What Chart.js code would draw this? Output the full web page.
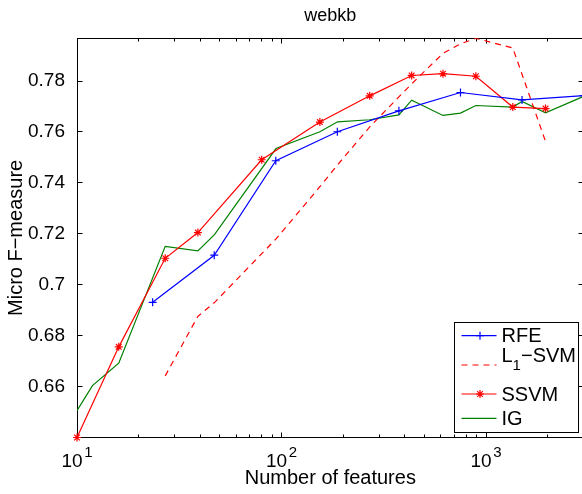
<!DOCTYPE html>
<html>
<head>
<meta charset="utf-8">
<script src="https://cdn.jsdelivr.net/npm/chart.js@4/dist/chart.umd.min.js"></script>
<style>
html,body{margin:0;padding:0;overflow:hidden;background:#fff;}
canvas{display:block;}
</style>
</head>
<body>
<canvas id="c" width="590" height="494"></canvas>
<script>
// ---------- data ----------
const chartTitle = 'webkb';
const xAxisLabel = 'Number of features';
const yAxisLabel = 'Micro F\u2212measure';
const seriesNames = ['RFE', 'L\u2081\u2212SVM', 'SSVM', 'IG'];

const rfeFeatures = [23.44, 46.88, 93.75, 187.5, 375, 750, 1500, 3000];
const rfeScores   = [0.6931, 0.7116, 0.7487, 0.7601, 0.7683, 0.7755, 0.7726, 0.7743];

const l1Features = [27, 39, 47, 94, 154, 188, 270, 375, 433, 616, 750, 892, 1352, 1954];
const l1Scores   = [0.6642, 0.6876, 0.6930, 0.7180, 0.7385, 0.7471, 0.7620, 0.7738, 0.7789, 0.7909, 0.7946, 0.7968, 0.7930, 0.7563];

const ssvmFeatures = [10, 16, 27, 39, 80, 154, 270, 433, 616, 892, 1352, 1954];
const ssvmScores   = [0.6400, 0.6756, 0.7104, 0.7205, 0.7491, 0.7639, 0.7742, 0.7822, 0.7829, 0.7819, 0.7698, 0.7692];

const igFeatures = [10, 11.9, 16, 27, 39, 47, 94, 154, 188, 270, 375, 433, 616, 750, 892, 1352, 1500, 1954, 3000];
const igScores   = [0.6505, 0.6604, 0.6692, 0.7151, 0.7133, 0.7197, 0.7535, 0.7601, 0.7640, 0.7648, 0.7667, 0.7725, 0.7665, 0.7674, 0.7704, 0.7698, 0.7720, 0.7675, 0.7740];

const yTickValues = [0.66, 0.68, 0.70, 0.72, 0.74, 0.76, 0.78];
const xMajorTicks = [10, 100, 1000];
const xMinorTicks = [20, 30, 40, 50, 60, 70, 80, 90, 200, 300, 400, 500, 600, 700, 800, 900, 2000];
const xRange = [10, 3000];
const yRange = [0.64, 0.7968];

// ---------- helpers ----------
const FONT = '"Liberation Sans", Arial, Helvetica, sans-serif';
const toPoints = (xs, ys) => xs.map((x, i) => ({x: x, y: ys[i]}));

Chart.defaults.font.family = FONT;
Chart.defaults.color = '#000';

// axes box with inward ticks and log tick labels (10^n)
const axesBox = {
  id: 'axesBox',
  beforeDatasetsDraw(chart) {
    const {ctx, chartArea: a, scales} = chart;
    const xs = scales.x, ys = scales.y;
    const L = Math.floor(a.left) + 0.5, R = Math.floor(a.right) + 0.5;
    const T = Math.floor(a.top) + 0.5, B = Math.floor(a.bottom) + 0.5;
    ctx.save();
    ctx.strokeStyle = '#000';
    ctx.lineWidth = 1;
    ctx.strokeRect(L, T, R - L, B - T);
    ctx.beginPath();
    yTickValues.forEach(v => {
      const p = Math.floor(ys.getPixelForValue(v)) + 0.5;
      ctx.moveTo(L, p); ctx.lineTo(L + 5, p);
      ctx.moveTo(R, p); ctx.lineTo(R - 5, p);
    });
    xMajorTicks.forEach(v => {
      const p = Math.floor(xs.getPixelForValue(v)) + 0.5;
      ctx.moveTo(p, B); ctx.lineTo(p, B - 5);
      ctx.moveTo(p, T); ctx.lineTo(p, T + 5);
    });
    xMinorTicks.forEach(v => {
      const p = Math.floor(xs.getPixelForValue(v)) + 0.5;
      ctx.moveTo(p, B); ctx.lineTo(p, B - 3);
      ctx.moveTo(p, T); ctx.lineTo(p, T + 3);
    });
    ctx.stroke();

    // x tick labels 10^n
    ctx.fillStyle = '#000';
    ctx.textBaseline = 'alphabetic';
    ctx.textAlign = 'left';
    xMajorTicks.forEach(v => {
      const e = String(Math.round(Math.log10(v)));
      ctx.font = '19px ' + FONT;
      const w1 = ctx.measureText('10').width;
      ctx.font = '15px ' + FONT;
      const w2 = ctx.measureText(e).width;
      const px = xs.getPixelForValue(v);
      const sx = px - (w1 + 1.5 + w2) / 2;
      const base = a.bottom + 29.8;
      ctx.font = '19px ' + FONT;
      ctx.fillText('10', sx, base);
      ctx.font = '15px ' + FONT;
      ctx.fillText(e, sx + w1 + 1.5, base - 10);
    });
    ctx.restore();
  }
};

function drawMarker(ctx, style, x, y, r) {
  ctx.beginPath();
  if (style === 'cross' || style === 'star') {
    ctx.moveTo(x - r, y); ctx.lineTo(x + r, y);
    ctx.moveTo(x, y - r); ctx.lineTo(x, y + r);
  }
  if (style === 'star') {
    const d = r * Math.SQRT1_2;
    ctx.moveTo(x - d, y - d); ctx.lineTo(x + d, y + d);
    ctx.moveTo(x - d, y + d); ctx.lineTo(x + d, y - d);
  }
  ctx.stroke();
}

const subMap = {'\u2080':'0','\u2081':'1','\u2082':'2','\u2083':'3','\u2084':'4','\u2085':'5','\u2086':'6','\u2087':'7','\u2088':'8','\u2089':'9'};

const legendBox = {
  id: 'legendBox',
  afterDraw(chart) {
    const {ctx, chartArea: a} = chart;
    const x0 = Math.floor(a.right - 129.6) + 0.5;
    const y0 = Math.floor(a.bottom - 114.8) + 0.5;
    const w = 124, h = 110;
    const rows = [13.2, 42.5, 71.5, 95.8];
    ctx.save();
    ctx.fillStyle = '#fff';
    ctx.fillRect(x0, y0, w, h);
    ctx.strokeStyle = '#000';
    ctx.lineWidth = 1;
    ctx.strokeRect(x0, y0, w, h);
    chart.data.datasets.forEach((ds, i) => {
      const ly = y0 + rows[i];
      ctx.strokeStyle = ds.borderColor;
      ctx.lineWidth = ds.borderWidth;
      ctx.setLineDash(ds.borderDash || []);
      ctx.beginPath();
      ctx.moveTo(x0 + 7, ly); ctx.lineTo(x0 + 42, ly);
      ctx.stroke();
      ctx.setLineDash([]);
      if (ds.pointRadius > 0) {
        ctx.lineWidth = ds.pointBorderWidth || 1;
        drawMarker(ctx, ds.pointStyle, x0 + 25.5, ly, ds.pointRadius);
      }
      // label text with subscript support
      const label = ds.label;
      const hasSub = [...label].some(c => subMap[c]);
      const mainY = hasSub ? ly - 8.7 : ly + 1;
      let tx = x0 + 47;
      ctx.fillStyle = '#000';
      ctx.textBaseline = 'middle';
      ctx.textAlign = 'left';
      for (const c of label) {
        if (subMap[c]) {
          ctx.font = '15px ' + FONT;
          ctx.fillText(subMap[c], tx, ly + 0.5);
          tx += ctx.measureText(subMap[c]).width;
        } else {
          ctx.font = '20px ' + FONT;
          ctx.fillText(c, tx, mainY);
          tx += ctx.measureText(c).width;
        }
      }
    });
    ctx.restore();
  }
};

new Chart(document.getElementById('c'), {
  type: 'scatter',
  data: {
    datasets: [
      {
        label: seriesNames[0],
        data: toPoints(rfeFeatures, rfeScores),
        showLine: true,
        borderColor: '#0000ff',
        backgroundColor: '#0000ff',
        borderWidth: 1.2,
        pointStyle: 'cross',
        pointRadius: 4,
        pointBorderWidth: 1.2,
        pointBorderColor: '#0000ff'
      },
      {
        label: seriesNames[1],
        data: toPoints(l1Features, l1Scores),
        showLine: true,
        borderColor: '#ff0000',
        backgroundColor: '#ff0000',
        borderWidth: 1.2,
        borderDash: [6, 5],
        pointRadius: 0
      },
      {
        label: seriesNames[2],
        data: toPoints(ssvmFeatures, ssvmScores),
        showLine: true,
        borderColor: '#ff0000',
        backgroundColor: '#ff0000',
        borderWidth: 1.2,
        pointStyle: 'star',
        pointRadius: 4,
        pointBorderWidth: 1.2,
        pointBorderColor: '#ff0000',
        clip: false
      },
      {
        label: seriesNames[3],
        data: toPoints(igFeatures, igScores),
        showLine: true,
        borderColor: '#008000',
        backgroundColor: '#008000',
        borderWidth: 1.2,
        pointRadius: 0
      }
    ]
  },
  options: {
    responsive: false,
    animation: false,
    devicePixelRatio: 1,
    layout: {padding: {left: 0, right: 6.4, top: 0, bottom: 0}},
    plugins: {
      legend: {display: false},
      tooltip: {enabled: false},
      title: {
        display: true,
        text: chartTitle,
        fullSize: false,
        color: '#000',
        font: {size: 18, weight: 'normal', family: FONT},
        padding: {top: 5.5, bottom: 11.2}
      }
    },
    scales: {
      x: {
        type: 'logarithmic',
        position: 'bottom',
        min: xRange[0],
        max: xRange[1],
        grid: {display: false, drawTicks: false},
        border: {display: false},
        ticks: {display: false},
        title: {
          display: true,
          text: xAxisLabel,
          color: '#000',
          font: {size: 20, family: FONT},
          padding: {top: 0, bottom: 3.5}
        },
        afterFit: s => { s.height = 56.5; }
      },
      y: {
        type: 'linear',
        position: 'left',
        min: yRange[0],
        max: yRange[1],
        grid: {display: false, drawTicks: false},
        border: {display: false},
        afterBuildTicks: s => { s.ticks = yTickValues.map(v => ({value: v})); },
        ticks: {
          color: '#000',
          font: {size: 19, family: FONT},
          padding: 12,
          callback: v => String(Math.round(v * 100) / 100)
        },
        title: {
          display: true,
          text: yAxisLabel,
          color: '#000',
          font: {size: 20, family: FONT},
          padding: {top: 4.7, bottom: 0}
        },
        afterFit: s => { s.width = 77; }
      }
    }
  },
  plugins: [axesBox, legendBox]
});
</script>
</body>
</html>
